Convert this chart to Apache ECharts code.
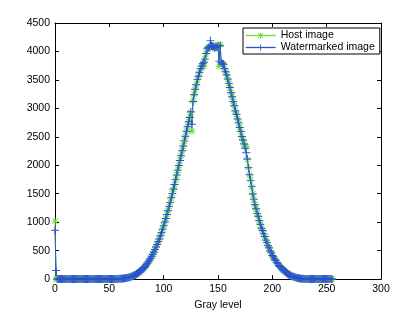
<!DOCTYPE html>
<html>
<head>
<meta charset="utf-8">
<script src="https://cdn.jsdelivr.net/npm/echarts@6/dist/echarts.min.js"></script>
<style>
html,body{margin:0;padding:0;background:#fff;}
#chart{width:420px;height:316px;}
</style>
</head>
<body>
<div id="chart"></div>
<script>
// Histogram counts per gray level 0..255
var hostImage = [
1020,0,0,0,0,0,0,0,0,0,
0,0,0,0,0,0,0,0,0,0,
0,0,0,0,0,0,0,0,0,0,
0,0,0,0,0,0,0,0,0,0,
0,0,0,0,0,0,0,0,0,0,
0,0,0,0,0,0,1,2,3,4,
5,7,9,11,14,17,21,25,30,36,
42,50,58,67,77,88,100,114,129,145,
163,182,203,226,250,276,304,334,366,400,
437,476,517,561,607,656,707,761,817,876,
937,1000,1066,1134,1204,1276,1350,1426,1504,1583,
1664,1746,1829,1913,1998,2083,2169,2255,2341,2427,
2512,2597,2680,2762,2850,2930,2600,3130,3250,3330,
3420,3500,3570,3630,3700,3740,3790,3740,3870,3960,
4050,4060,4080,4060,4110,4100,4080,4050,4090,4070,
4120,3740,4120,3800,3790,3770,3700,3640,3590,3510,
3440,3360,3280,3200,3120,3040,2960,2890,2820,2740,
2670,2590,2510,2440,2380,2330,2330,2100,1960,1830,
1740,1620,1500,1400,1310,1230,1160,1100,1030,960,
900,850,800,745,690,640,590,545,500,460,
420,385,355,325,295,268,243,220,200,180,
162,145,128,112,97,84,72,61,52,44,
37,30,25,20,16,12,9,7,5,4,
3,2,1,1,0,0,0,0,0,0,
0,0,0,0,0,0,0,0,0,0,
0,0,0,0,0,0
];
var watermarkedImage = [
860,150,0,0,0,0,0,0,0,0,
0,0,0,0,0,0,0,0,0,0,
0,0,0,0,0,0,0,0,0,0,
0,0,0,0,0,0,0,0,0,0,
0,0,0,0,0,0,0,0,0,0,
0,0,0,0,0,0,1,2,3,5,
6,7,9,12,14,18,21,26,30,37,
43,50,59,68,78,89,101,115,130,146,
164,183,204,227,251,278,305,336,368,402,
438,478,519,563,609,658,705,763,815,878,
935,1002,1064,1136,1202,1278,1348,1428,1502,1585,
1662,1748,1827,1915,1996,2085,2167,2257,2339,2429,
2510,2599,2678,2764,2840,2940,2720,3120,3240,3335,
3415,3505,3565,3635,3695,3745,3785,3810,3865,3965,
4045,4065,4075,4190,4100,4090,4085,4060,4080,4075,
4090,3830,4100,3810,3785,3775,3695,3645,3585,3515,
3435,3365,3275,3205,3115,3045,2955,2895,2815,2745,
2665,2595,2505,2445,2375,2300,2220,2110,1955,1835,
1735,1625,1495,1405,1305,1235,1155,1105,1025,965,
895,855,795,750,685,645,585,550,495,465,
415,390,350,330,290,272,240,223,197,183,
159,148,125,115,94,87,70,63,50,46,
35,32,23,21,15,13,8,8,4,5,
2,3,1,1,0,0,0,0,0,0,
0,0,0,0,0,0,0,0,0,0,
0,0,0,0,0,0
];
var seriesNames = ['Host image', 'Watermarked image'];
var seriesColors = ['#66dd33', '#2a4fd8'];
var xAxisName = 'Gray level';
var xRange = [0, 300, 50];
var yRange = [0, 4500, 500];

function pairs(arr) {
  return arr.map(function (v, i) { return [i, v]; });
}

var FONT = 'Liberation Sans, Arial, Helvetica, sans-serif';
var FS = 10.5;
var plusPath = 'path://M0,4.4L10,4.4L10,5.6L0,5.6Z M4.4,0L5.6,0L5.6,10L4.4,10Z';
var starPath = 'path://M0,4.4L10,4.4L10,5.6L0,5.6Z M4.4,0L5.6,0L5.6,10L4.4,10Z M1.5,0.7L9.3,8.5L8.5,9.3L0.7,1.5Z M8.5,0.7L9.3,1.5L1.5,9.3L0.7,8.5Z';
function plain(v) { return String(v); }

var axisCommonX = {
  type: 'value', min: xRange[0], max: xRange[1], interval: xRange[2],
  splitLine: { show: false },
  axisLine: { show: true, onZero: false, lineStyle: { color: '#000', width: 1 } },
  axisTick: { show: true, inside: true, length: 4, lineStyle: { color: '#000' } }
};
var axisCommonY = {
  type: 'value', min: yRange[0], max: yRange[1], interval: yRange[2],
  splitLine: { show: false },
  axisLine: { show: true, onZero: false, lineStyle: { color: '#000', width: 1 } },
  axisTick: { show: true, inside: true, length: 4, lineStyle: { color: '#000' } }
};

var chart = echarts.init(document.getElementById('chart'), null, { renderer: 'canvas' });
chart.setOption({
  animation: false,
  backgroundColor: '#fff',
  textStyle: { fontFamily: FONT },
  grid: { left: 55, right: 39, top: 23, bottom: 36, containLabel: false },
  legend: {
    data: seriesNames,
    orient: 'vertical',
    left: 243, top: 28,
    itemWidth: 30, itemHeight: 8, itemGap: 1,
    padding: [2, 5, 1, 2],
    borderColor: '#000', borderWidth: 1, borderRadius: 0,
    backgroundColor: '#fff',
    lineStyle: { width: 1.3, color: 'inherit', opacity: 1 },
    textStyle: { fontFamily: FONT, fontSize: FS, color: '#000' }
  },
  xAxis: [
    Object.assign({}, axisCommonX, {
      position: 'bottom',
      name: xAxisName, nameLocation: 'middle', nameGap: 16,
      nameTextStyle: { fontFamily: FONT, fontSize: FS, color: '#000' },
      axisLabel: { color: '#000', fontFamily: FONT, fontSize: FS, margin: 5, formatter: plain }
    }),
    Object.assign({}, axisCommonX, { position: 'top', axisLabel: { show: false } })
  ],
  yAxis: [
    Object.assign({}, axisCommonY, {
      position: 'left',
      axisLabel: { color: '#000', fontFamily: FONT, fontSize: FS, margin: 5, formatter: plain }
    }),
    Object.assign({}, axisCommonY, { position: 'right', axisLabel: { show: false } })
  ],
  series: [
    {
      name: seriesNames[0], type: 'line', xAxisIndex: 0, yAxisIndex: 0,
      data: pairs(hostImage),
      symbol: starPath, symbolSize: 7, showAllSymbol: true,
      color: seriesColors[0],
      lineStyle: { color: seriesColors[0], width: 1 },
      itemStyle: { color: seriesColors[0], borderWidth: 0 }
    },
    {
      name: seriesNames[1], type: 'line', xAxisIndex: 0, yAxisIndex: 0,
      data: pairs(watermarkedImage),
      symbol: plusPath, symbolSize: 8, showAllSymbol: true,
      color: seriesColors[1],
      lineStyle: { color: seriesColors[1], width: 1 },
      itemStyle: { color: seriesColors[1], borderWidth: 0 }
    }
  ]
});
</script>
</body>
</html>
